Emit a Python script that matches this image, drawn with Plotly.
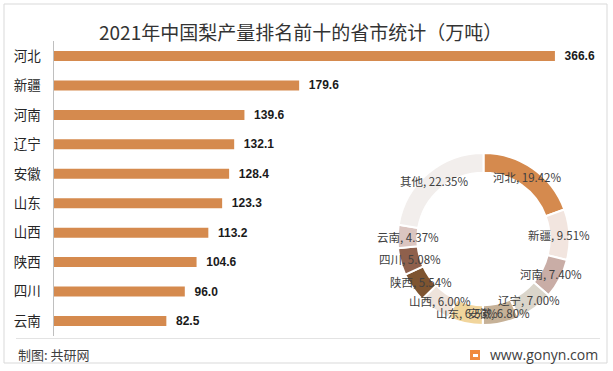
import math
import plotly.graph_objects as go

W, H = 613, 371

# ---- data ----
provinces = ["河北", "新疆", "河南", "辽宁", "安徽", "山东", "山西", "陕西", "四川", "云南"]
output_wt = [366.6, 179.6, 139.6, 132.1, 128.4, 123.3, 113.2, 104.6, 96.0, 82.5]

pie_labels = ["河北", "新疆", "河南", "辽宁", "安徽", "山东", "山西", "陕西", "四川", "云南", "其他"]
pie_pct = [19.42, 9.51, 7.40, 7.00, 6.80, 6.53, 6.00, 5.54, 5.08, 4.37, 22.35]
pie_colors = ["#D58A4E", "#F2E5DF", "#C9ADA6", "#DAD5CA", "#C6B197", "#F1D59C",
              "#EEE3DB", "#7E5430", "#8F604C", "#DBC5C0", "#F2EEEC"]

title_text = "2021年中国梨产量排名前十的省市统计（万吨）"
source_text = "制图: 共研网"
site_text = "www.gonyn.com"


def px(x):
    return x / W


def py(y):
    return 1 - y / H


BAR = "#D58A4E"
CJK = "Noto Sans CJK SC"

fig = go.Figure()

fig.add_trace(go.Bar(
    x=output_wt, y=provinces, orientation="h",
    marker=dict(color=BAR, line=dict(width=0)),
    text=["\u00a0\u00a0" + f"{v:.1f}" for v in output_wt],
    textposition="outside", cliponaxis=False, constraintext="none",
    textfont=dict(family="Liberation Sans", size=12, color="#1a1a1a", weight="bold"),
    hoverinfo="skip", showlegend=False,
))

# donut geometry (pixels)
cx, cy, R = 483.5, 239.0, 86.0
fig.add_trace(go.Pie(
    labels=pie_labels, values=pie_pct, sort=False, direction="clockwise", rotation=0,
    hole=0.77, marker=dict(colors=pie_colors, line=dict(color="white", width=2)),
    textinfo="none", hoverinfo="skip", showlegend=False,
    domain=dict(x=[px(cx - R), px(cx + R)], y=[py(cy + R), py(cy - R)]),
))

annotations = []
total = sum(pie_pct)
cum = 0.0
rmid = 76.0
for lab, v in zip(pie_labels, pie_pct):
    a = 2 * math.pi * (cum + v / 2) / total
    cum += v
    x = cx + rmid * math.sin(a)
    y = cy - rmid * math.cos(a)
    annotations.append(dict(
        x=px(x), y=py(y), xref="paper", yref="paper", showarrow=False,
        text=f"{lab}, {v:.2f}%", font=dict(family=CJK, size=11.5, color="#404040"),
        xanchor="center", yanchor="middle"))

annotations.append(dict(x=px(300), y=py(31), xref="paper", yref="paper", showarrow=False,
                        text=title_text, font=dict(family=CJK, size=19, color="#333333"),
                        xanchor="center", yanchor="middle"))
annotations.append(dict(x=px(16), y=py(354), xref="paper", yref="paper", showarrow=False,
                        text=source_text, font=dict(family=CJK, size=13, color="#404040"),
                        xanchor="left", yanchor="middle"))
annotations.append(dict(x=px(600), y=py(354), xref="paper", yref="paper", showarrow=False,
                        text=site_text, font=dict(family="Open Sans", size=14, color="#404040"),
                        xanchor="right", yanchor="middle"))

shapes = [
    dict(type="rect", xref="paper", yref="paper", x0=px(4), x1=px(607), y0=py(363), y1=py(4),
         line=dict(color="#D9D9D9", width=1), fillcolor="rgba(0,0,0,0)", layer="below"),
    dict(type="line", xref="paper", yref="paper", x0=px(16), x1=px(600), y0=py(338.5), y1=py(338.5),
         line=dict(color="#E3E3E3", width=1)),
    dict(type="rect", xref="paper", yref="paper", x0=px(470), x1=px(480), y0=py(360), y1=py(350),
         line=dict(width=0), fillcolor="#F08A3C"),
    dict(type="rect", xref="paper", yref="paper", x0=px(473), x1=px(478), y0=py(357), y1=py(354),
         line=dict(width=0), fillcolor="#FFFFFF"),
]

fig.update_layout(
    width=W, height=H, margin=dict(l=0, r=0, t=0, b=0),
    paper_bgcolor="white", plot_bgcolor="white",
    bargap=0.66,
    xaxis=dict(domain=[px(53.5), px(600.6)], range=[0, 400], showgrid=False, zeroline=False,
               showticklabels=False, showline=False, fixedrange=True),
    yaxis=dict(domain=[py(335.7), py(41.3)], autorange="reversed", showgrid=False, zeroline=False,
               showline=True, linecolor="#BFBFBF", linewidth=1, ticks="",
               ticklabelstandoff=9,
               tickfont=dict(family=CJK, size=13.5, color="#262626"), fixedrange=True),
    annotations=annotations, shapes=shapes,
    font=dict(family=CJK),
)

fig.write_html("out.html", config={"displayModeBar": False},
               post_script="document.body.style.margin='0';document.body.style.padding='0';")
